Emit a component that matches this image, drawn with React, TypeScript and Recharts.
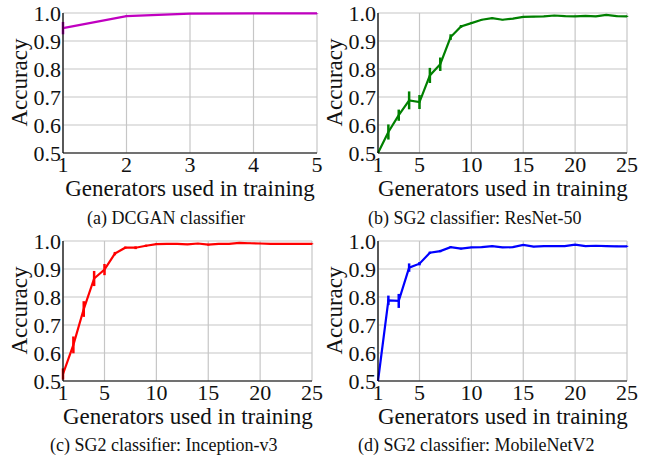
import React from 'react';
import { LineChart, Line, XAxis, YAxis, CartesianGrid, ErrorBar } from 'recharts';

const SERIF = '"Liberation Serif", serif';

// generators used in training (x values)
const gens5 = [1, 2, 3, 4, 5];
const gens25 = [1, 2, 3, 4, 5, 6, 7, 8, 9, 10, 11, 12, 13, 14, 15, 16, 17, 18, 19, 20, 21, 22, 23, 24, 25];

const ticks5 = [1, 2, 3, 4, 5];
const ticks25 = [1, 5, 10, 15, 20, 25];
const accTicks = [0.5, 0.6, 0.7, 0.8, 0.9, 1.0];

// (a) DCGAN classifier
const dcganAcc = [0.946, 0.989, 0.998, 0.999, 0.999];
const dcganErr = [0.022, 0.003, 0.001, 0.001, 0.001];

// (b) SG2 classifier: ResNet-50
const resnetAcc = [0.5, 0.575, 0.635, 0.688, 0.682, 0.777, 0.817, 0.914, 0.952, 0.964, 0.976, 0.982, 0.976,
  0.98, 0.986, 0.987, 0.988, 0.991, 0.989, 0.988, 0.99, 0.988, 0.993, 0.989, 0.988];
const resnetErr = [0, 0.027, 0.02, 0.032, 0.025, 0.027, 0.024, 0.01, 0.005, 0.003, 0.002, 0.002, 0.002,
  0.002, 0.002, 0.002, 0.002, 0.002, 0.002, 0.002, 0.002, 0.002, 0.002, 0.002, 0.002];

// (c) SG2 classifier: Inception-v3
const inceptionAcc = [0.525, 0.629, 0.757, 0.866, 0.898, 0.955, 0.976, 0.976, 0.983, 0.989, 0.99, 0.99, 0.988,
  0.991, 0.987, 0.99, 0.99, 0.993, 0.992, 0.991, 0.99, 0.99, 0.99, 0.99, 0.99];
const inceptionErr = [0.02, 0.03, 0.028, 0.027, 0.02, 0.006, 0.004, 0.005, 0.004, 0.003, 0.002, 0.002, 0.002,
  0.002, 0.003, 0.002, 0.002, 0.002, 0.002, 0.002, 0.002, 0.002, 0.002, 0.002, 0.002];

// (d) SG2 classifier: MobileNetV2
const mobileAcc = [0.5, 0.788, 0.786, 0.905, 0.919, 0.958, 0.964, 0.978, 0.973, 0.977, 0.978, 0.982, 0.977,
  0.978, 0.986, 0.98, 0.982, 0.982, 0.982, 0.987, 0.982, 0.983, 0.982, 0.981, 0.981];
const mobileErr = [0, 0.017, 0.025, 0.015, 0.006, 0.004, 0.004, 0.003, 0.003, 0.002, 0.002, 0.002, 0.002,
  0.002, 0.002, 0.002, 0.002, 0.002, 0.002, 0.002, 0.002, 0.002, 0.002, 0.002, 0.002];

const toRows = (gens: number[], acc: number[], err: number[]) =>
  gens.map((g, i) => ({ g, acc: acc[i], err: err[i] }));

const TOP = 13;
const PLOT_H = 140;
const Y_W = 63;
const RIGHT = 14;
const X_H = 75;

const tickStyle = { fill: '#111', fontSize: 22, fontFamily: SERIF };

type PanelProps = {
  x: number;
  y: number;
  plotW: number;
  rows: { g: number; acc: number; err: number }[];
  ticks: number[];
  color: string;
  caption: string;
  captionX: number;
  captionY: number;
};

function Panel({ x, y, plotW, rows, ticks, color, caption, captionX, captionY }: PanelProps) {
  const W = Y_W + plotW + RIGHT;
  const H = TOP + PLOT_H + X_H;
  const text: React.CSSProperties = { position: 'absolute', fontFamily: SERIF, color: '#111', whiteSpace: 'nowrap', margin: 0 };
  return (
    <div style={{ position: 'absolute', left: x - Y_W, top: y - TOP, width: W, height: 232 }}>
      <LineChart width={W} height={H} data={rows} margin={{ top: TOP, right: RIGHT, left: 0, bottom: 0 }}>
        <CartesianGrid stroke="#c6c6c6" strokeWidth={1.2} />
        <XAxis
          dataKey="g"
          type="number"
          domain={[ticks[0], ticks[ticks.length - 1]]}
          ticks={ticks}
          interval={0}
          height={X_H}
          axisLine={{ stroke: '#000', strokeWidth: 1.2 }}
          tickLine={false}
          tickSize={0}
          tickMargin={3}
          tick={tickStyle}
        />
        <YAxis
          type="number"
          domain={[0.5, 1.0]}
          ticks={accTicks}
          interval={0}
          width={Y_W}
          axisLine={{ stroke: '#000', strokeWidth: 1.2 }}
          tickLine={false}
          tickSize={0}
          tickMargin={2}
          tickFormatter={(v: number) => v.toFixed(1)}
          tick={tickStyle}
        />
        <Line type="linear" dataKey="acc" stroke={color} strokeWidth={2.2} dot={false} isAnimationActive={false}>
          <ErrorBar dataKey="err" direction="y" width={0} stroke={color} strokeWidth={2.5} isAnimationActive={false} />
        </Line>
      </LineChart>
      <div style={{ ...text, left: Y_W - 44 - 60, top: TOP + PLOT_H / 2 - 12, width: 120, height: 23, lineHeight: '23px', fontSize: 23, textAlign: 'center', transform: 'rotate(-90deg)' }}>
        Accuracy
      </div>
      <div style={{ ...text, left: Y_W, top: TOP + 183 - 19, width: plotW, lineHeight: '23px', fontSize: 23, textAlign: 'center' }}>
        Generators used in training
      </div>
      <div style={{ ...text, left: captionX, top: captionY - 15, lineHeight: '18px', fontSize: 18 }}>
        {caption}
      </div>
    </div>
  );
}

export default function App() {
  return (
    <div style={{ position: 'absolute', left: 0, top: 0, width: 650, height: 460, background: '#fff', overflow: 'hidden', fontFamily: SERIF }}>
      <Panel x={63} y={13} plotW={254} rows={toRows(gens5, dcganAcc, dcganErr)} ticks={ticks5} color="#c000c0"
        caption="(a) DCGAN classifier" captionX={87} captionY={224} />
      <Panel x={378} y={13} plotW={249} rows={toRows(gens25, resnetAcc, resnetErr)} ticks={ticks25} color="#008000"
        caption="(b) SG2 classifier: ResNet-50" captionX={53} captionY={224} />
      <Panel x={63} y={241} plotW={249} rows={toRows(gens25, inceptionAcc, inceptionErr)} ticks={ticks25} color="#ff0000"
        caption="(c) SG2 classifier: Inception-v3" captionX={50} captionY={223} />
      <Panel x={378} y={241} plotW={249} rows={toRows(gens25, mobileAcc, mobileErr)} ticks={ticks25} color="#0000ff"
        caption="(d) SG2 classifier: MobileNetV2" captionX={43} captionY={223} />
    </div>
  );
}
